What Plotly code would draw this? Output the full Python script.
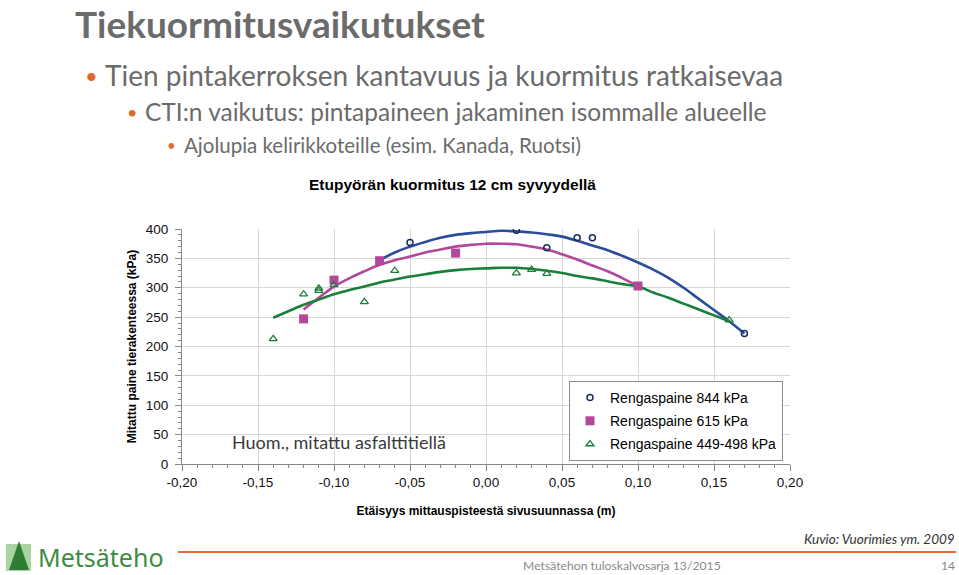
import plotly.graph_objects as go

W, H = 959, 575

# ---------------- data ----------------
# fitted curves
x_844 = [-0.07, -0.06, -0.05, -0.04, -0.03, -0.02, -0.01, 0.00, 0.01, 0.02, 0.03, 0.04,
         0.05, 0.06, 0.07, 0.08, 0.09, 0.10, 0.11, 0.12, 0.13, 0.14, 0.15, 0.16, 0.17]
y_844 = [347, 360, 370, 378, 385, 390, 393, 395, 397, 396, 394, 391,
         387, 380, 372, 364, 354, 343, 331, 317, 300, 281, 262, 243, 222]

x_615 = [-0.12, -0.11, -0.10, -0.09, -0.08, -0.07, -0.06, -0.05, -0.04, -0.03, -0.02, -0.01,
         0.00, 0.01, 0.02, 0.03, 0.04, 0.05, 0.06, 0.07, 0.08, 0.09, 0.10]
y_615 = [263, 283, 302, 316, 328, 339, 347, 353, 360, 365, 370, 373,
         375, 375, 374, 370, 365, 357, 348, 338, 328, 316, 303]

x_449 = [-0.14, -0.13, -0.12, -0.11, -0.10, -0.09, -0.08, -0.07, -0.06, -0.05, -0.04, -0.03,
         -0.02, -0.01, 0.00, 0.01, 0.02, 0.03, 0.04, 0.05, 0.06, 0.07, 0.08, 0.09, 0.10,
         0.11, 0.12, 0.13, 0.14, 0.15, 0.16]
y_449 = [249, 260, 271, 280, 289, 296, 302, 309, 314, 319, 323, 327,
         330, 332, 333, 334, 334, 332, 329, 325, 320, 316, 311, 306, 302,
         292, 283, 273, 263, 253, 243]

# measured points
px_844 = [-0.05, 0.02, 0.04, 0.06, 0.07, 0.17]
py_844 = [377, 398, 368, 385, 385, 222]

px_615 = [-0.12, -0.10, -0.07, -0.02, 0.10]
py_615 = [247, 313, 346, 359, 303]

px_449 = [-0.14, -0.12, -0.11, -0.11, -0.10, -0.08, -0.06, 0.02, 0.03, 0.04, 0.16]
py_449 = [213, 289, 295, 299, 305, 276, 329, 325, 331, 324, 245]

names = ["Rengaspaine 844 kPa", "Rengaspaine 615 kPa", "Rengaspaine 449-498 kPa"]

x_tickvals = [-0.20, -0.15, -0.10, -0.05, 0.00, 0.05, 0.10, 0.15, 0.20]
x_ticktext = ["-0,20", "-0,15", "-0,10", "-0,05", "0,00", "0,05", "0,10", "0,15", "0,20"]

BLUE = "#2B4C9B"
PINK = "#B3479C"
GREEN = "#1B7F3C"
ORANGE = "#E2692B"

def px(x):
    return x / W

def py(y):
    return 1 - y / H

fig = go.Figure()

# curves
fig.add_trace(go.Scatter(x=x_844, y=y_844, mode="lines", line=dict(color=BLUE, width=2.6, shape="spline"),
                         showlegend=False, hoverinfo="skip"))
fig.add_trace(go.Scatter(x=x_615, y=y_615, mode="lines", line=dict(color=PINK, width=2.6, shape="spline"),
                         showlegend=False, hoverinfo="skip"))
fig.add_trace(go.Scatter(x=x_449, y=y_449, mode="lines", line=dict(color=GREEN, width=2.6, shape="spline"),
                         showlegend=False, hoverinfo="skip"))

# points
fig.add_trace(go.Scatter(x=px_844, y=py_844, mode="markers", name=names[0], legendgroup="a",
                         marker=dict(symbol="circle-open", size=6, color="#1F2D5A", line=dict(width=1.5))))
fig.add_trace(go.Scatter(x=px_615, y=py_615, mode="markers", name=names[1], legendgroup="b",
                         marker=dict(symbol="square", size=9, color=PINK)))
fig.add_trace(go.Scatter(x=px_449, y=py_449, mode="markers", name=names[2], legendgroup="c",
                         marker=dict(symbol="triangle-up-open", size=7, color=GREEN, line=dict(width=1.3))))

axis_font = dict(family="Liberation Sans, Arial", size=13.5, color="#111")

fig.update_layout(
    width=W, height=H,
    margin=dict(l=0, r=0, t=0, b=0),
    paper_bgcolor="white", plot_bgcolor="white",
    separators=", ",
    font=dict(family="Liberation Sans, Arial"),
    xaxis=dict(domain=[px(182), px(790)], range=[-0.2, 0.2], automargin=False,
               tickmode="array", tickvals=x_tickvals, ticktext=x_ticktext,
               showgrid=True, gridcolor="#D6D6D6", gridwidth=1,
               ticks="outside", ticklen=6, tickcolor="#888", tickwidth=1,
               minor=dict(dtick=0.01, tick0=-0.2, ticks="outside", ticklen=3, tickcolor="#888", showgrid=False),
               showline=True, linecolor="#888", linewidth=1, zeroline=False,
               tickfont=axis_font,
               title=dict(text="<b>Etäisyys mittauspisteestä sivusuunnassa (m)</b>",
                          font=dict(family="Liberation Sans, Arial", size=12, color="#000"), standoff=17)),
    yaxis=dict(domain=[py(464), py(229)], range=[0, 400], dtick=50, automargin=False,
               showgrid=True, gridcolor="#D6D6D6", gridwidth=1,
               ticks="outside", ticklen=6, tickcolor="#888", tickwidth=1,
               minor=dict(dtick=10, ticks="outside", ticklen=3, tickcolor="#888", showgrid=False),
               showline=True, linecolor="#888", linewidth=1, zeroline=False,
               tickfont=axis_font, ticklabelstandoff=4,
               title=dict(text="<b>Mitattu paine tierakenteessa (kPa)</b>",
                          font=dict(family="Liberation Sans, Arial", size=12, color="#000"), standoff=6)),
    legend=dict(x=px(569), y=py(381), xanchor="left", yanchor="top",
                bgcolor="white", bordercolor="#8C8C8C", borderwidth=1,
                font=dict(family="Liberation Sans, Arial", size=14, color="#000"),
                itemsizing="trace", itemwidth=30, tracegroupgap=2),
)

ann = []
def text(x, y, s, size, color, family="Lato", xanchor="left", bold=False, italic=False, yanchor="middle"):
    if bold:
        s = f"<b>{s}</b>"
    if italic:
        s = f"<i>{s}</i>"
    ann.append(dict(x=px(x), y=py(y), xref="paper", yref="paper", text=s, showarrow=False, borderpad=0,
                    xanchor=xanchor, yanchor=yanchor, font=dict(family=family, size=size, color=color)))

# slide text
text(74, 0, "Tiekuormitusvaikutukset", 37, "#6B6B6B", bold=True, yanchor="top")
text(84, 75, "•", 22, ORANGE)
text(104, 75, "Tien pintakerroksen kantavuus ja kuormitus ratkaisevaa", 28, "#6B6B6B")
text(126, 112, "•", 18, ORANGE)
text(144, 112, "CTI:n vaikutus: pintapaineen jakaminen isommalle alueelle", 24.5, "#6B6B6B")
text(166, 145, "•", 15, ORANGE)
text(183, 145, "Ajolupia kelirikkoteille (esim. Kanada, Ruotsi)", 20.5, "#6B6B6B")

# chart title and note
text(452, 184, "Etupyörän kuormitus 12 cm syvyydellä", 15.5, "#000", family="Liberation Sans, Arial",
     xanchor="center", bold=True)
text(231, 442, "Huom., mitattu asfalttitiellä", 18, "#3A3A3A")

# footer
text(37, 557, "Metsäteho", 25, "#3C8C42", family="Noto Sans")
text(956, 539, "Kuvio: Vuorimies ym. 2009", 13.5, "#333", xanchor="right", italic=True)
text(522, 565, "Metsätehon tuloskalvosarja 13/2015", 12.2, "#8A8A8A")
text(956, 565, "14", 12.2, "#8A8A8A", xanchor="right")

fig.update_layout(annotations=ann)

shapes = [
    dict(type="line", xref="paper", yref="paper", x0=px(178), x1=px(956), y0=py(552), y1=py(552),
         line=dict(color=ORANGE, width=2)),
    dict(type="rect", xref="paper", yref="paper", x0=px(6), x1=px(31), y0=py(571), y1=py(544),
         fillcolor="#A9D3A0", line=dict(width=0)),
    dict(type="path", xref="paper", yref="paper",
         path=f"M {px(9)} {py(570)} L {px(19)} {py(541)} L {px(29)} {py(570)} Z",
         fillcolor="#2F7D35", line=dict(width=0)),
]
fig.update_layout(shapes=shapes)

fig.write_html("out.html", config={"displayModeBar": False},
               post_script="document.body.style.margin='0';document.body.style.overflow='hidden';")
